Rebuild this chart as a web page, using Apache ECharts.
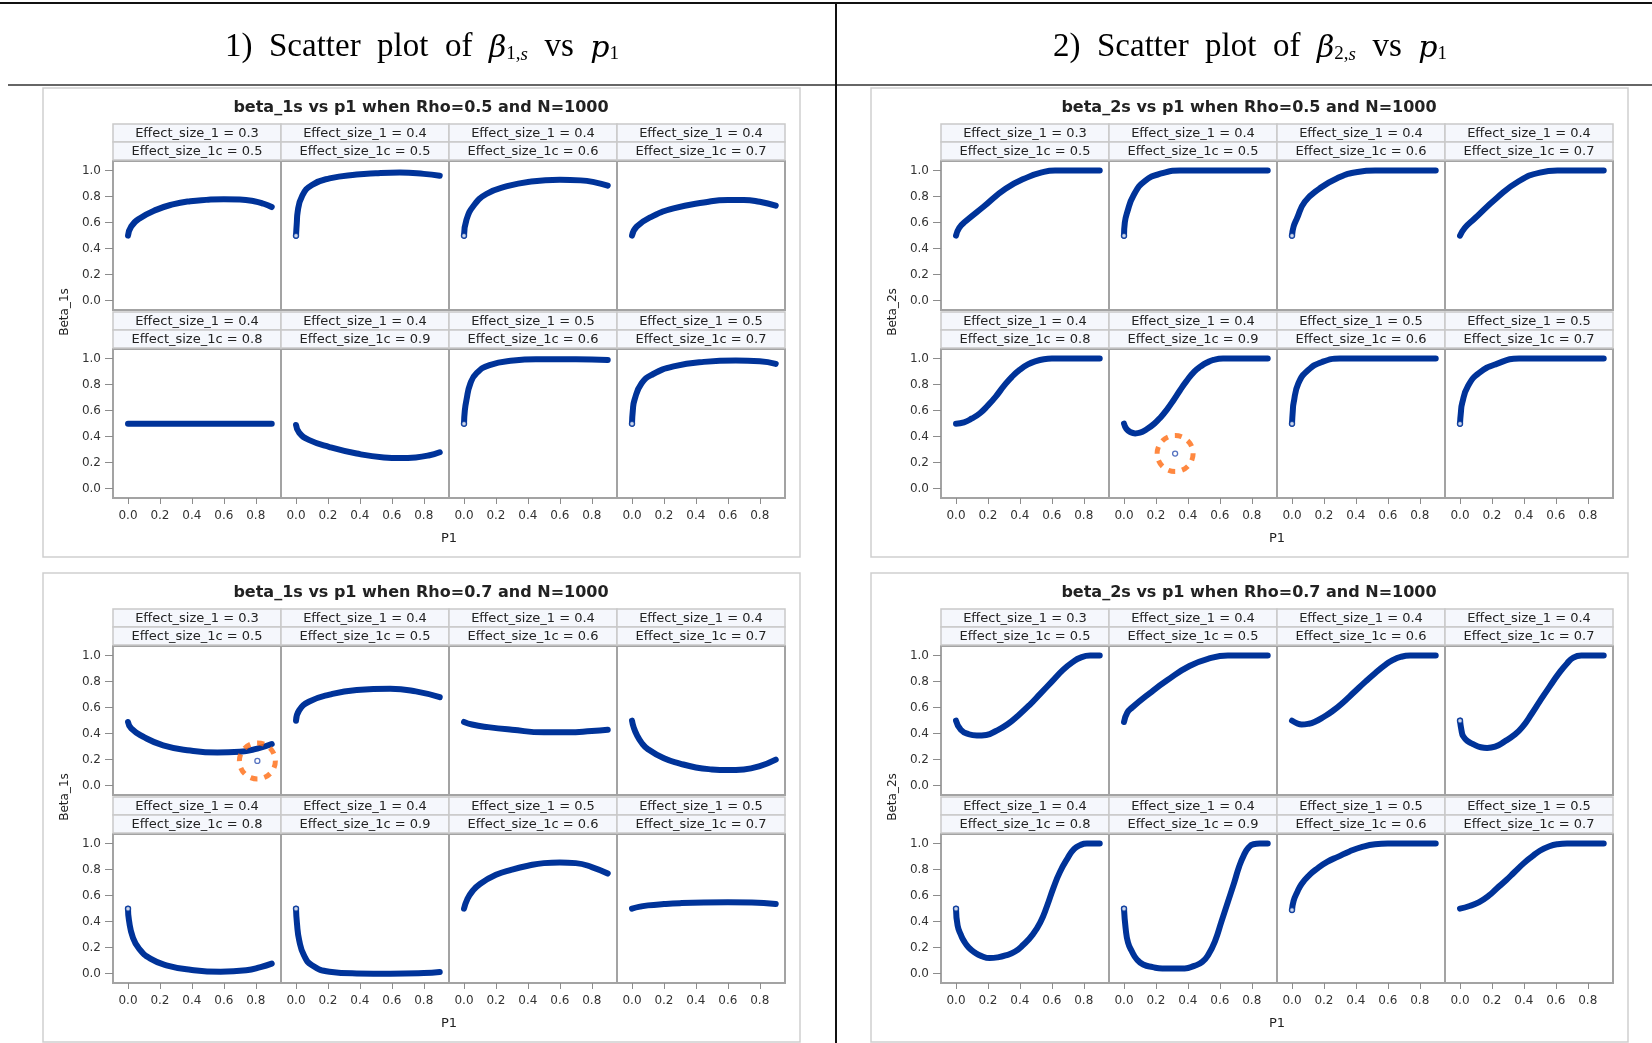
<!DOCTYPE html>
<html>
<head>
<meta charset="utf-8">
<script src="https://cdn.jsdelivr.net/npm/echarts@6/dist/echarts.min.js"></script>
<style>
html, body { margin: 0; padding: 0; background: #fff; }
#chart { width: 1652px; height: 1043px; }
</style>
</head>
<body>
<div id="chart"></div>
<script>
// facet labels (same order in every panel: row 1 then row 2)
const effectSize1 = ['0.3', '0.4', '0.4', '0.4', '0.4', '0.4', '0.5', '0.5']
const effectSize1c = ['0.5', '0.5', '0.6', '0.7', '0.8', '0.9', '0.6', '0.7']
const xTicks = [0, 0.2, 0.4, 0.6, 0.8]
const yTicks = [0, 0.2, 0.4, 0.6, 0.8, 1.0]

// [p1, beta], one list per facet
const beta1Rho05 = [
  [[0,0.5],[0.02,0.57],[0.07,0.63],[0.18,0.7],[0.28,0.74],[0.39,0.765],[0.49,0.775],[0.6,0.78],[0.7,0.778],[0.79,0.765],[0.85,0.745],[0.9,0.72]],
  [[0,0.5],[0.005,0.6],[0.01,0.68],[0.04,0.81],[0.1,0.89],[0.21,0.94],[0.38,0.97],[0.5,0.98],[0.65,0.985],[0.8,0.975],[0.9,0.96]],
  [[0,0.5],[0.015,0.62],[0.06,0.73],[0.14,0.82],[0.27,0.88],[0.41,0.915],[0.6,0.93],[0.73,0.925],[0.82,0.91],[0.9,0.885]],
  [[0,0.5],[0.03,0.57],[0.13,0.65],[0.26,0.71],[0.45,0.755],[0.6,0.775],[0.7,0.775],[0.8,0.76],[0.9,0.73]],
  [[0,0.5],[0.3,0.5],[0.6,0.5],[0.9,0.5]],
  [[0,0.49],[0.02,0.43],[0.08,0.375],[0.21,0.32],[0.38,0.27],[0.55,0.24],[0.65,0.235],[0.75,0.24],[0.83,0.255],[0.9,0.28]],
  [[0,0.5],[0.005,0.6],[0.015,0.68],[0.04,0.81],[0.08,0.89],[0.16,0.95],[0.31,0.985],[0.45,0.995],[0.7,0.995],[0.9,0.99]],
  [[0,0.5],[0.005,0.6],[0.015,0.68],[0.06,0.81],[0.13,0.88],[0.26,0.94],[0.45,0.975],[0.65,0.985],[0.8,0.98],[0.9,0.96]]
]

const beta1Rho07 = [
  [[0,0.49],[0.02,0.44],[0.09,0.38],[0.22,0.31],[0.39,0.27],[0.56,0.255],[0.7,0.26],[0.81,0.285],[0.9,0.32]],
  [[0,0.5],[0.02,0.58],[0.08,0.645],[0.21,0.7],[0.38,0.735],[0.59,0.745],[0.75,0.725],[0.9,0.68]],
  [[0,0.49],[0.05,0.47],[0.15,0.45],[0.3,0.43],[0.5,0.41],[0.65,0.41],[0.8,0.42],[0.9,0.43]],
  [[0,0.5],[0.01,0.45],[0.03,0.39],[0.06,0.33],[0.1,0.28],[0.2,0.21],[0.3,0.17],[0.4,0.14],[0.5,0.125],[0.6,0.12],[0.7,0.125],[0.8,0.15],[0.9,0.2]],
  [[0,0.5],[0.006,0.41],[0.03,0.28],[0.07,0.19],[0.14,0.115],[0.24,0.064],[0.39,0.03],[0.58,0.015],[0.74,0.026],[0.83,0.05],[0.9,0.077]],
  [[0,0.5],[0.006,0.385],[0.02,0.256],[0.05,0.14],[0.1,0.064],[0.21,0.015],[0.38,0.002],[0.59,0.0],[0.8,0.005],[0.9,0.013]],
  [[0,0.5],[0.02,0.57],[0.05,0.63],[0.1,0.69],[0.2,0.76],[0.3,0.8],[0.4,0.83],[0.5,0.85],[0.6,0.855],[0.7,0.85],[0.8,0.82],[0.9,0.77]],
  [[0,0.5],[0.05,0.515],[0.1,0.525],[0.2,0.535],[0.3,0.542],[0.45,0.548],[0.6,0.55],[0.75,0.548],[0.9,0.535]]
]

const beta2Rho05 = [
  [[0,0.5],[0.02,0.56],[0.06,0.61],[0.17,0.72],[0.31,0.86],[0.45,0.95],[0.55,0.99],[0.62,1.0],[0.75,1.0],[0.9,1.0]],
  [[0,0.5],[0.005,0.6],[0.02,0.68],[0.06,0.81],[0.13,0.92],[0.24,0.98],[0.35,1.0],[0.6,1.0],[0.9,1.0]],
  [[0,0.5],[0.01,0.57],[0.03,0.63],[0.08,0.76],[0.17,0.86],[0.28,0.94],[0.41,0.99],[0.52,1.0],[0.7,1.0],[0.9,1.0]],
  [[0,0.5],[0.03,0.56],[0.09,0.63],[0.23,0.79],[0.37,0.92],[0.5,0.985],[0.61,1.0],[0.75,1.0],[0.9,1.0]],
  [[0,0.5],[0.05,0.51],[0.1,0.54],[0.15,0.58],[0.2,0.64],[0.25,0.71],[0.3,0.79],[0.35,0.86],[0.4,0.915],[0.45,0.955],[0.5,0.98],[0.55,0.995],[0.6,1.0],[0.75,1.0],[0.9,1.0]],
  [[0,0.5],[0.015,0.46],[0.04,0.435],[0.07,0.425],[0.1,0.43],[0.14,0.455],[0.19,0.5],[0.23,0.55],[0.27,0.61],[0.31,0.68],[0.35,0.755],[0.39,0.825],[0.44,0.9],[0.48,0.94],[0.52,0.97],[0.56,0.99],[0.62,1.0],[0.75,1.0],[0.9,1.0]],
  [[0,0.5],[0.005,0.6],[0.01,0.66],[0.04,0.81],[0.1,0.91],[0.19,0.975],[0.3,1.0],[0.6,1.0],[0.9,1.0]],
  [[0,0.5],[0.005,0.58],[0.014,0.66],[0.05,0.79],[0.12,0.89],[0.23,0.96],[0.37,1.0],[0.6,1.0],[0.9,1.0]]
]

const beta2Rho07 = [
  [[0,0.5],[0.03,0.43],[0.08,0.395],[0.13,0.385],[0.19,0.39],[0.25,0.42],[0.32,0.47],[0.39,0.54],[0.46,0.62],[0.53,0.71],[0.6,0.8],[0.67,0.89],[0.73,0.95],[0.78,0.985],[0.84,1.0],[0.9,1.0]],
  [[0,0.49],[0.02,0.56],[0.05,0.6],[0.16,0.71],[0.27,0.81],[0.41,0.92],[0.54,0.98],[0.65,1.0],[0.78,1.0],[0.9,1.0]],
  [[0,0.5],[0.03,0.48],[0.06,0.47],[0.1,0.475],[0.14,0.49],[0.2,0.53],[0.25,0.57],[0.32,0.64],[0.39,0.72],[0.46,0.8],[0.52,0.865],[0.58,0.925],[0.63,0.965],[0.68,0.99],[0.74,1.0],[0.82,1.0],[0.9,1.0]],
  [[0,0.5],[0.01,0.42],[0.02,0.38],[0.05,0.34],[0.08,0.32],[0.13,0.295],[0.17,0.29],[0.22,0.3],[0.28,0.34],[0.34,0.39],[0.39,0.45],[0.45,0.555],[0.5,0.65],[0.56,0.76],[0.62,0.865],[0.67,0.94],[0.71,0.985],[0.76,1.0],[0.83,1.0],[0.9,1.0]],
  [[0,0.5],[0.01,0.37],[0.03,0.3],[0.05,0.25],[0.08,0.2],[0.12,0.16],[0.16,0.135],[0.21,0.12],[0.26,0.125],[0.31,0.14],[0.37,0.17],[0.42,0.22],[0.48,0.3],[0.53,0.4],[0.57,0.52],[0.61,0.66],[0.65,0.78],[0.7,0.89],[0.74,0.96],[0.78,0.99],[0.82,1.0],[0.86,1.0],[0.9,1.0]],
  [[0,0.5],[0.01,0.35],[0.025,0.24],[0.05,0.17],[0.08,0.11],[0.12,0.07],[0.18,0.05],[0.24,0.04],[0.31,0.04],[0.38,0.04],[0.44,0.06],[0.49,0.09],[0.53,0.15],[0.57,0.25],[0.61,0.4],[0.65,0.55],[0.69,0.7],[0.72,0.82],[0.75,0.91],[0.78,0.97],[0.81,0.995],[0.85,1.0],[0.88,1.0],[0.9,1.0]],
  [[0,0.49],[0.01,0.56],[0.03,0.62],[0.06,0.69],[0.11,0.76],[0.16,0.81],[0.22,0.86],[0.29,0.9],[0.36,0.94],[0.44,0.975],[0.52,0.995],[0.6,1.0],[0.75,1.0],[0.9,1.0]],
  [[0,0.5],[0.06,0.52],[0.12,0.55],[0.18,0.6],[0.23,0.655],[0.29,0.72],[0.34,0.78],[0.4,0.85],[0.45,0.9],[0.5,0.945],[0.56,0.98],[0.61,0.995],[0.67,1.0],[0.78,1.0],[0.9,1.0]]
]

// circled outliers: [panel, facet, p1, beta]
const outliers = [
  [1, 0, 0.81, 0.19],
  [2, 5, 0.32, 0.27]
]

const BLUE = '#003399'
const FONT = '"DejaVu Sans", sans-serif'

const panels = [
  { title: 'beta_1s vs p1 when Rho=0.5 and N=1000', yName: 'Beta_1s', curves: beta1Rho05, left: 43, top: 88 },
  { title: 'beta_1s vs p1 when Rho=0.7 and N=1000', yName: 'Beta_1s', curves: beta1Rho07, left: 43, top: 573 },
  { title: 'beta_2s vs p1 when Rho=0.5 and N=1000', yName: 'Beta_2s', curves: beta2Rho05, left: 871, top: 88 },
  { title: 'beta_2s vs p1 when Rho=0.7 and N=1000', yName: 'Beta_2s', curves: beta2Rho07, left: 871, top: 573 }
]

const CELL_W = 168
const PLOT_H = 149
const STRIP_H = 18

const grid = [], xAxis = [], yAxis = [], series = []
const graphic = [
  // page frame: top rule, header rule, middle divider
  { type: 'line', shape: { x1: 0, y1: 3, x2: 1652, y2: 3 }, style: { stroke: '#111', lineWidth: 2 } },
  { type: 'line', shape: { x1: 8, y1: 85, x2: 1652, y2: 85 }, style: { stroke: '#666', lineWidth: 2 } },
  { type: 'line', shape: { x1: 836, y1: 3, x2: 836, y2: 1043 }, style: { stroke: '#111', lineWidth: 2 } }
]

const headRich = {
  t: { fontFamily: '"Liberation Serif", "DejaVu Serif", serif', fontSize: 33, color: '#222', verticalAlign: 'bottom', lineHeight: 44 },
  g: { fontFamily: '"DejaVu Serif", serif', fontStyle: 'italic', fontSize: 30, color: '#222', verticalAlign: 'bottom', lineHeight: 44 },
  s: { fontFamily: '"Liberation Serif", serif', fontSize: 19, color: '#222', verticalAlign: 'bottom', lineHeight: 22 },
  si: { fontFamily: '"Liberation Serif", serif', fontStyle: 'italic', fontSize: 19, color: '#222', verticalAlign: 'bottom', lineHeight: 22 }
}
graphic.push({ type: 'text', x: 422, y: 42, style: { text: '{t|1)  Scatter  plot  of  }{g|β}{s|1,}{si|s}{t|  vs  }{g|p}{s|1}', rich: headRich, align: 'center', verticalAlign: 'middle' } })
graphic.push({ type: 'text', x: 1250, y: 42, style: { text: '{t|2)  Scatter  plot  of  }{g|β}{s|2,}{si|s}{t|  vs  }{g|p}{s|1}', rich: headRich, align: 'center', verticalAlign: 'middle' } })

panels.forEach((p, pi) => {
  graphic.push({ type: 'rect', z: -1, shape: { x: p.left, y: p.top, width: 757, height: 469 }, style: { fill: 'none', stroke: '#cfcfcf', lineWidth: 1.5 } })
  graphic.push({ type: 'text', x: p.left + 378, y: p.top + 20, style: { text: p.title, font: 'bold 16px ' + FONT, fill: '#222', align: 'center', verticalAlign: 'middle' } })
  graphic.push({ type: 'text', x: p.left + 22, y: p.top + 224, rotation: Math.PI / 2, style: { text: p.yName, font: '12px ' + FONT, fill: '#222', align: 'center', verticalAlign: 'middle' } })
  graphic.push({ type: 'text', x: p.left + 406, y: p.top + 451, style: { text: 'P1', font: '13px ' + FONT, fill: '#222', align: 'center', verticalAlign: 'middle' } })

  p.curves.forEach((curve, k) => {
    const row = Math.floor(k / 4)
    const col = k % 4
    const gx = p.left + 70 + CELL_W * col
    const rowTop = p.top + (row === 0 ? 36 : 224)

    const strips = ['Effect_size_1 = ' + effectSize1[k], 'Effect_size_1c = ' + effectSize1c[k]]
    strips.forEach((label, si) => {
      graphic.push({ type: 'rect', shape: { x: gx, y: rowTop + STRIP_H * si, width: CELL_W, height: STRIP_H }, style: { fill: '#f5f7fc', stroke: '#c9c9c9', lineWidth: 1.5 } })
      graphic.push({ type: 'text', x: gx + CELL_W / 2, y: rowTop + STRIP_H * si + STRIP_H / 2 + 1, style: { text: label, font: '13px ' + FONT, fill: '#222', align: 'center', verticalAlign: 'middle' } })
    })

    const gi = grid.length
    grid.push({ left: gx, top: rowTop + 37, width: CELL_W, height: PLOT_H, show: true, backgroundColor: '#fff', borderColor: '#a3a3a3', borderWidth: 2 })

    xAxis.push({
      gridIndex: gi, type: 'value', min: -0.094, max: 0.958,
      axisLine: { show: false, onZero: false }, splitLine: { show: false },
      axisTick: { show: row === 1, customValues: xTicks, length: 6, lineStyle: { color: '#8c8c8c' } },
      axisLabel: { show: row === 1, customValues: xTicks, margin: 12, fontSize: 12, fontFamily: FONT, color: '#333', formatter: v => v.toFixed(1) }
    })
    yAxis.push({
      gridIndex: gi, type: 'value', min: -0.072, max: 1.074,
      axisLine: { show: false, onZero: false }, splitLine: { show: false },
      axisTick: { show: col === 0, customValues: yTicks, length: 8, lineStyle: { color: '#8c8c8c' } },
      axisLabel: { show: col === 0, customValues: yTicks, margin: 12, fontSize: 12, fontFamily: FONT, color: '#333', formatter: v => v.toFixed(1) }
    })

    series.push({
      type: 'line', xAxisIndex: gi, yAxisIndex: gi, data: curve,
      smooth: 0.5, symbol: 'none', silent: true,
      lineStyle: { color: BLUE, width: 6, cap: 'round', join: 'round' }
    })

    // the first marker stays visible as an open circle where the curve leaves steeply
    const slope = Math.abs((curve[1][1] - curve[0][1]) / (curve[1][0] - curve[0][0]))
    if (slope > 5) {
      series.push({
        type: 'scatter', xAxisIndex: gi, yAxisIndex: gi, data: [curve[0]], silent: true, z: 3,
        symbol: 'circle', symbolSize: 5,
        itemStyle: { color: '#fff', borderColor: BLUE, borderWidth: 1.5 }
      })
    }

    outliers.filter(o => o[0] === pi && o[1] === k).forEach(o => {
      series.push({
        type: 'scatter', xAxisIndex: gi, yAxisIndex: gi, data: [[o[2], o[3]]], silent: true, z: 3,
        symbol: 'circle', symbolSize: 36,
        itemStyle: { color: 'rgba(0,0,0,0)', borderColor: '#ff6a10', borderWidth: 5, borderType: [7, 7] }
      })
      series.push({
        type: 'scatter', xAxisIndex: gi, yAxisIndex: gi, data: [[o[2], o[3]]], silent: true, z: 4,
        symbol: 'circle', symbolSize: 5,
        itemStyle: { color: '#fff', borderColor: '#2a4fb0', borderWidth: 1.3 }
      })
    })
  })
})

const chart = echarts.init(document.getElementById('chart'))
chart.setOption({
  animation: false,
  backgroundColor: '#fff',
  grid, xAxis, yAxis, series, graphic
})
</script>
</body>
</html>
